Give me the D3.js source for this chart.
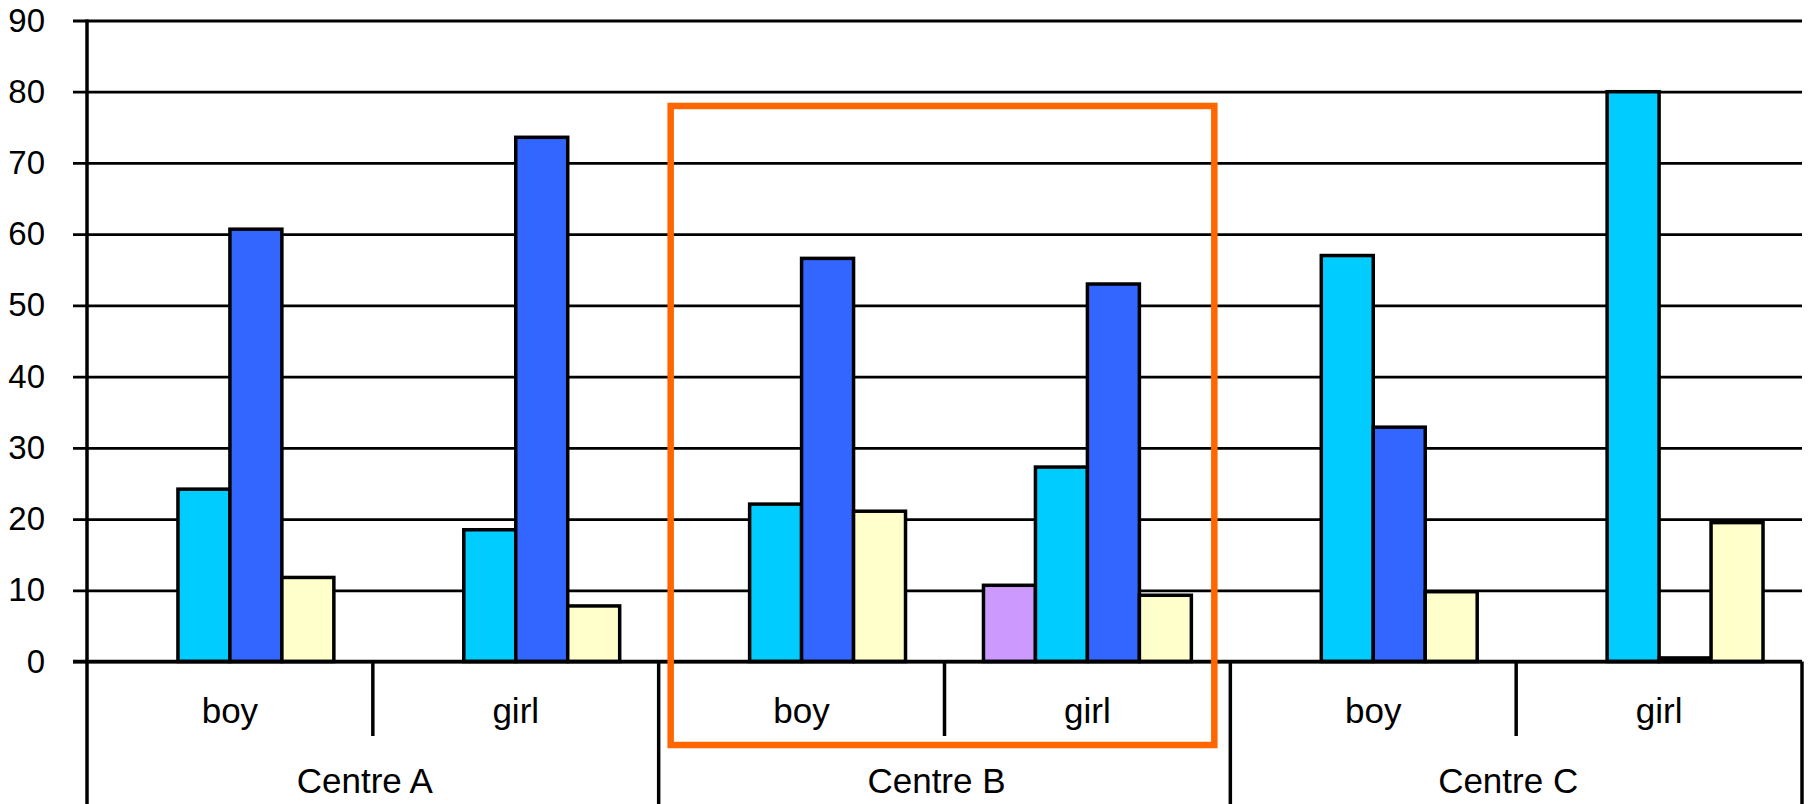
<!DOCTYPE html>
<html>
<head>
<meta charset="utf-8">
<script src="https://cdn.jsdelivr.net/npm/d3@7/dist/d3.min.js"></script>
<style>
  html, body { margin: 0; padding: 0; background: #ffffff; }
  svg { display: block; }
  text { font-family: "Liberation Sans", Arial, sans-serif; fill: #000; }
</style>
</head>
<body>
<svg id="chart" width="1820" height="804"></svg>
<script>
// Two-level categories: centre, then gender within each centre
const centres = ["Centre A", "Centre B", "Centre C"];
const genders = ["boy", "girl"];

// Four series per gender group (order left to right inside a cluster)
const seriesNames = ["s1", "s2", "s3", "s4"];
const seriesColors = ["#CC99FF", "#00CCFF", "#3366FF", "#FFFFCC"];

// Values per group, in order: A boy, A girl, B boy, B girl, C boy, C girl
const s1Values = [0, 0, 0, 10.7, 0, 0];
const s2Values = [24.2, 18.5, 22.1, 27.3, 57.0, 80.0];
const s3Values = [60.7, 73.6, 56.6, 53.0, 32.9, 0.5];
const s4Values = [11.8, 7.8, 21.1, 9.3, 9.8, 19.5];

const yTicks = [0, 10, 20, 30, 40, 50, 60, 70, 80, 90];

// Highlighted centre
const highlightCentre = "Centre B";

const seriesValues = [s1Values, s2Values, s3Values, s4Values];

// Flatten into one record per bar
const bars = [];
centres.forEach((c, ci) => {
  genders.forEach((g, gi) => {
    const idx = ci * genders.length + gi;
    seriesNames.forEach((s, si) => {
      bars.push({ centre: c, gender: g, series: s, color: seriesColors[si], value: seriesValues[si][idx] });
    });
  });
});

const svg = d3.select("#chart");
const plotLeft = 87, plotRight = 1802;
const yBase = 661.5, yTopPx = 20.5, bottomEdge = 804;

const y = d3.scaleLinear().domain([0, 90]).range([yBase, yTopPx]);
const xCentre = d3.scaleBand().domain(centres).range([plotLeft, plotRight]).padding(0);
const xGender = d3.scaleBand().domain(genders).range([0, xCentre.bandwidth()]).padding(0);
const xSeries = d3.scaleBand().domain(seriesNames).range([0, xGender.bandwidth()])
  .paddingInner(0).paddingOuter(0.75);

// Horizontal gridlines with short ticks left of the axis, plus labels
const yAxis = svg.append("g")
  .attr("transform", `translate(${plotLeft},0)`)
  .call(d3.axisLeft(y).tickValues(yTicks).tickSizeInner(-(plotRight - plotLeft)).tickSizeOuter(0).tickPadding(42));
yAxis.select(".domain").remove();
yAxis.selectAll(".tick line")
  .attr("x1", -14)
  .attr("x2", plotRight - plotLeft)
  .attr("stroke", "#000")
  .attr("stroke-width", 2.8);
yAxis.selectAll(".tick text")
  .attr("font-size", 33)
  .attr("font-family", "Liberation Sans, Arial, sans-serif")
  .attr("fill", "#000");

// Bars
svg.append("g").selectAll("rect")
  .data(bars.filter(d => d.value > 0))
  .join("rect")
  .attr("x", d => xCentre(d.centre) + xGender(d.gender) + xSeries(d.series))
  .attr("width", xSeries.bandwidth())
  .attr("y", d => y(d.value))
  .attr("height", d => y(0) - y(d.value))
  .attr("fill", d => d.color)
  .attr("stroke", "#000")
  .attr("stroke-width", 3.5);

// Axis lines
const axes = svg.append("g").attr("stroke", "#000").attr("stroke-width", 3.5);
axes.append("line")
  .attr("x1", plotLeft - 14).attr("x2", plotRight)
  .attr("y1", y(0)).attr("y2", y(0));
axes.append("line")
  .attr("x1", plotLeft).attr("x2", plotLeft)
  .attr("y1", y(90) - 1).attr("y2", bottomEdge);

// Dividers between centres (full height of label area)
centres.forEach((c, i) => {
  if (i === 0) return;
  axes.append("line")
    .attr("x1", xCentre(c)).attr("x2", xCentre(c))
    .attr("y1", y(0)).attr("y2", bottomEdge);
});
axes.append("line")
  .attr("x1", plotRight).attr("x2", plotRight)
  .attr("y1", y(0)).attr("y2", bottomEdge);

// Dividers between genders inside each centre (first label row only)
centres.forEach(c => {
  genders.forEach((g, gi) => {
    if (gi === 0) return;
    const xx = xCentre(c) + xGender(g);
    axes.append("line")
      .attr("x1", xx).attr("x2", xx)
      .attr("y1", y(0)).attr("y2", 736);
  });
});

// Gender labels
const labels = svg.append("g").attr("text-anchor", "middle");
centres.forEach(c => {
  genders.forEach(g => {
    labels.append("text")
      .attr("x", xCentre(c) + xGender(g) + xGender.bandwidth() / 2)
      .attr("y", 723)
      .attr("font-size", 35)
      .text(g);
  });
});

// Centre labels
centres.forEach(c => {
  labels.append("text")
    .attr("x", xCentre(c) + xCentre.bandwidth() / 2 - 8)
    .attr("y", 793)
    .attr("font-size", 35)
    .text(c);
});

// Highlight frame around one centre
const hx0 = xCentre(highlightCentre) + 12;
const hx1 = xCentre(highlightCentre) + xCentre.bandwidth() - 16;
svg.append("rect")
  .attr("x", hx0)
  .attr("y", y(78))
  .attr("width", hx1 - hx0)
  .attr("height", 745 - y(78))
  .attr("fill", "none")
  .attr("stroke", "#FF6600")
  .attr("stroke-width", 6.5);
</script>
</body>
</html>
